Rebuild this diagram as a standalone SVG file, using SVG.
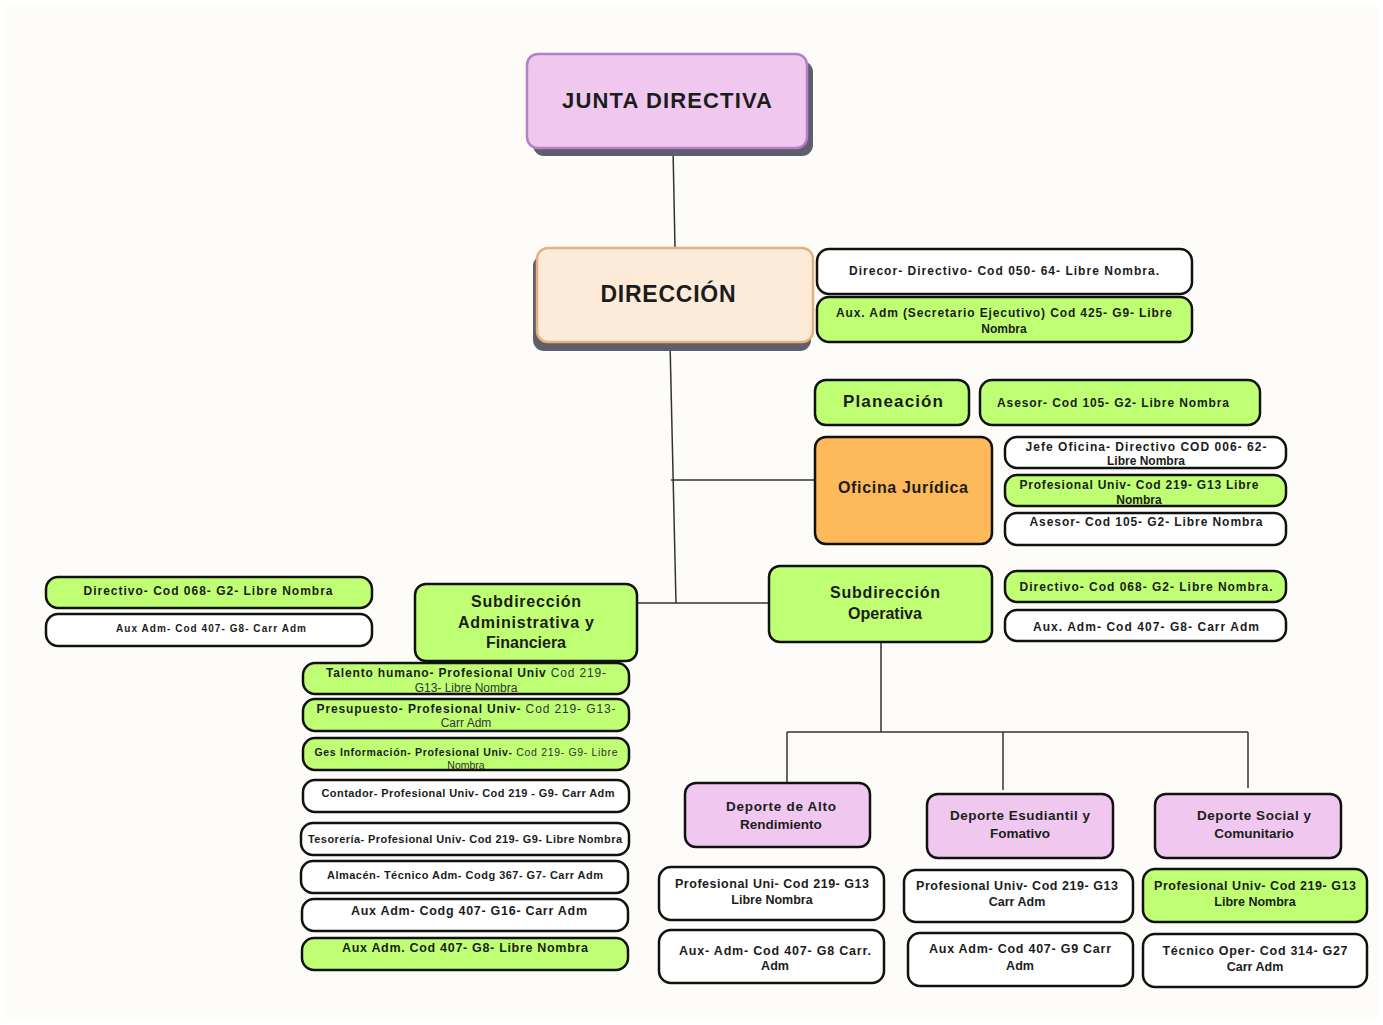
<svg xmlns="http://www.w3.org/2000/svg" width="1383" height="1025" viewBox="0 0 1383 1025">
<style>
.bg{fill:#fdfcf8}
.t{font-family:"Liberation Sans",Arial,sans-serif;font-weight:bold;fill:#1c1c1c;text-anchor:middle}
.r{font-weight:normal;fill:#333}
.w{fill:#ffffff;stroke:#111;stroke-width:2.5}
.g{fill:#bfff73;stroke:#111;stroke-width:2.5}
.o{fill:#fdb95a;stroke:#111;stroke-width:2.5}
.p{fill:#f0c8ef;stroke:#111;stroke-width:2.5}
.sh{fill:#5f5e6e}
.ln{stroke:#333;stroke-width:1.5;fill:none}
</style>
<rect x="0" y="0" width="1383" height="1025" fill="#ffffff"/>
<rect class="bg" x="5" y="4" width="1373" height="1016" rx="4"/>

<g id="connectors">
<path class="ln" d="M673 148 L675 248"/>
<path class="ln" d="M670 342 L676 603"/>
<path class="ln" d="M671 480 L815 480"/>
<path class="ln" d="M638 603 L769 603"/>
<path class="ln" d="M881 642 L881 732"/>
<path class="ln" d="M787 732 L1248 732"/>
<path class="ln" d="M787 732 L787 783"/>
<path class="ln" d="M1003 732 L1003 790"/>
<path class="ln" d="M1248 732 L1248 788"/>
</g>

<g id="junta">
<rect class="sh" x="533" y="61" width="280" height="95" rx="11"/>
<rect x="527" y="54" width="280" height="94" rx="11" fill="#f0c8ef" stroke="#b47fc4" stroke-width="2.5"/>
<text class="t" x="667" y="108" font-size="22" textLength="210">JUNTA DIRECTIVA</text>
</g>

<g id="direccion">
<rect class="sh" x="533" y="255" width="278" height="96" rx="11"/>
<rect x="537" y="248" width="276" height="94" rx="11" fill="#fdebd9" stroke="#e6b07a" stroke-width="2.5"/>
<text class="t" x="668" y="302" font-size="23" textLength="135">DIRECCIÓN</text>
</g>

<g id="direcor">
<rect class="w" x="817" y="249" width="375" height="45" rx="12"/>
<text class="t" x="1004" y="275" font-size="12" textLength="310">Direcor- Directivo- Cod 050- 64- Libre Nombra.</text>
</g>
<g id="aux-secretario">
<rect class="g" x="817" y="297" width="375" height="45" rx="12"/>
<text class="t" x="1004" y="317" font-size="12" textLength="336">Aux. Adm (Secretario Ejecutivo) Cod 425- G9- Libre</text>
<text class="t" x="1004" y="333" font-size="12">Nombra</text>
</g>

<g id="planeacion">
<rect class="g" x="815" y="380" width="154" height="45" rx="11"/>
<text class="t" x="893" y="407" font-size="17" textLength="100">Planeación</text>
</g>
<g id="planeacion-asesor">
<rect class="g" x="980" y="380" width="280" height="45" rx="12"/>
<text class="t" x="1113" y="407" font-size="12" textLength="232">Asesor- Cod 105- G2- Libre Nombra</text>
</g>

<g id="oficina-juridica">
<rect class="o" x="815" y="437" width="177" height="107" rx="11"/>
<text class="t" x="903" y="493" font-size="16" textLength="130">Oficina Jurídica</text>
</g>
<g id="jefe-oficina">
<rect class="w" x="1005" y="437" width="281" height="31" rx="12"/>
<text class="t" x="1146" y="451" font-size="12" textLength="241">Jefe Oficina- Directivo COD 006- 62-</text>
<text class="t" x="1146" y="465" font-size="12">Libre Nombra</text>
</g>
<g id="juridica-profesional">
<rect class="g" x="1005" y="475" width="281" height="31" rx="12"/>
<text class="t" x="1139" y="489" font-size="12" textLength="239">Profesional Univ- Cod 219- G13 Libre</text>
<text class="t" x="1139" y="504" font-size="12">Nombra</text>
</g>
<g id="juridica-asesor">
<rect class="w" x="1005" y="513" width="281" height="32" rx="12"/>
<text class="t" x="1146" y="526" font-size="12" textLength="233">Asesor- Cod 105- G2- Libre Nombra</text>
</g>

<g id="sub-operativa">
<rect class="g" x="769" y="566" width="223" height="76" rx="11"/>
<text class="t" x="885" y="598" font-size="16" textLength="110">Subdirección</text>
<text class="t" x="885" y="619" font-size="16">Operativa</text>
</g>
<g id="op-directivo">
<rect class="g" x="1005" y="571" width="281" height="31" rx="12"/>
<text class="t" x="1146" y="591" font-size="12" textLength="253">Directivo- Cod 068- G2- Libre Nombra.</text>
</g>
<g id="op-aux">
<rect class="w" x="1005" y="610" width="281" height="31" rx="12"/>
<text class="t" x="1146" y="631" font-size="12" textLength="226">Aux. Adm- Cod 407- G8- Carr Adm</text>
</g>

<g id="sub-administrativa">
<rect class="g" x="415" y="584" width="222" height="77" rx="11"/>
<text class="t" x="526" y="607" font-size="16" textLength="110">Subdirección</text>
<text class="t" x="526" y="628" font-size="16" textLength="136">Administrativa y</text>
<text class="t" x="526" y="648" font-size="16">Financiera</text>
</g>
<g id="adm-directivo">
<rect class="g" x="46" y="577" width="326" height="31" rx="12"/>
<text class="t" x="208" y="595" font-size="12" textLength="249">Directivo- Cod 068- G2- Libre Nombra</text>
</g>
<g id="adm-aux">
<rect class="w" x="46" y="614" width="326" height="32" rx="12"/>
<text class="t" x="211" y="632" font-size="10" textLength="190">Aux Adm- Cod 407- G8- Carr Adm</text>
</g>

<g id="talento">
<rect class="g" x="303" y="663" width="326" height="31" rx="12"/>
<text class="t" x="466" y="677" font-size="12" textLength="280">Talento humano- Profesional Univ <tspan class="r">Cod 219-</tspan></text>
<text class="t r" x="466" y="692" font-size="12">G13- Libre Nombra</text>
</g>
<g id="presupuesto">
<rect class="g" x="303" y="699" width="326" height="32" rx="12"/>
<text class="t" x="466" y="713" font-size="12" textLength="299">Presupuesto- Profesional Univ- <tspan class="r">Cod 219- G13-</tspan></text>
<text class="t r" x="466" y="727" font-size="12">Carr Adm</text>
</g>
<g id="ges-informacion">
<rect class="g" x="303" y="738" width="326" height="32" rx="12"/>
<text class="t" x="466" y="756" font-size="10.5" textLength="303">Ges Información- Profesional Univ- <tspan class="r">Cod 219- G9- Libre</tspan></text>
<text class="t r" x="466" y="769" font-size="10.5">Nombra</text>
</g>
<g id="contador">
<rect class="w" x="303" y="780" width="326" height="32" rx="12"/>
<text class="t" x="468" y="797" font-size="11" textLength="293">Contador- Profesional Univ- Cod 219 - G9- Carr Adm</text>
</g>
<g id="tesoreria">
<rect class="w" x="301" y="823" width="328" height="32" rx="12"/>
<text class="t" x="465" y="843" font-size="11" textLength="314">Tesorería- Profesional Univ- Cod 219- G9- Libre Nombra</text>
</g>
<g id="almacen">
<rect class="w" x="301" y="861" width="327" height="32" rx="12"/>
<text class="t" x="465" y="879" font-size="11" textLength="276">Almacén- Técnico Adm- Codg 367- G7- Carr Adm</text>
</g>
<g id="aux-codg">
<rect class="w" x="302" y="899" width="326" height="32" rx="12"/>
<text class="t" x="469" y="915" font-size="12.5" textLength="236">Aux Adm- Codg 407- G16- Carr Adm</text>
</g>
<g id="aux-libre">
<rect class="g" x="302" y="938" width="326" height="32" rx="12"/>
<text class="t" x="465" y="952" font-size="12.5" textLength="246">Aux Adm. Cod 407- G8- Libre Nombra</text>
</g>

<g id="deporte-alto">
<rect class="p" x="685" y="783" width="185" height="64" rx="11"/>
<text class="t" x="781" y="811" font-size="13.5" textLength="110">Deporte de Alto</text>
<text class="t" x="781" y="829" font-size="13.5">Rendimiento</text>
</g>
<g id="deporte-estudiantil">
<rect class="p" x="927" y="794" width="186" height="64" rx="11"/>
<text class="t" x="1020" y="820" font-size="13.5" textLength="140">Deporte Esudiantil y</text>
<text class="t" x="1020" y="838" font-size="13.5">Fomativo</text>
</g>
<g id="deporte-social">
<rect class="p" x="1155" y="794" width="186" height="64" rx="11"/>
<text class="t" x="1254" y="820" font-size="13.5" textLength="114">Deporte Social y</text>
<text class="t" x="1254" y="838" font-size="13.5">Comunitario</text>
</g>

<g id="alto-prof">
<rect class="w" x="659" y="867" width="225" height="53" rx="12"/>
<text class="t" x="772" y="888" font-size="12.5" textLength="194">Profesional Uni- Cod 219- G13</text>
<text class="t" x="772" y="904" font-size="12.5">Libre Nombra</text>
</g>
<g id="estudiantil-prof">
<rect class="w" x="904" y="870" width="229" height="52" rx="12"/>
<text class="t" x="1017" y="890" font-size="12.5" textLength="202">Profesional Univ- Cod 219- G13</text>
<text class="t" x="1017" y="906" font-size="12.5">Carr Adm</text>
</g>
<g id="social-prof">
<rect class="g" x="1143" y="869" width="224" height="53" rx="12"/>
<text class="t" x="1255" y="890" font-size="12.5" textLength="202">Profesional Univ- Cod 219- G13</text>
<text class="t" x="1255" y="906" font-size="12.5">Libre Nombra</text>
</g>
<g id="alto-aux">
<rect class="w" x="659" y="930" width="225" height="53" rx="12"/>
<text class="t" x="775" y="955" font-size="12.5" textLength="192">Aux- Adm- Cod 407- G8 Carr.</text>
<text class="t" x="775" y="970" font-size="12.5">Adm</text>
</g>
<g id="estudiantil-aux">
<rect class="w" x="908" y="933" width="225" height="53" rx="12"/>
<text class="t" x="1020" y="953" font-size="12.5" textLength="182">Aux Adm- Cod 407- G9 Carr</text>
<text class="t" x="1020" y="970" font-size="12.5">Adm</text>
</g>
<g id="social-tecnico">
<rect class="w" x="1143" y="934" width="224" height="53" rx="12"/>
<text class="t" x="1255" y="955" font-size="12.5" textLength="185">Técnico Oper- Cod 314- G27</text>
<text class="t" x="1255" y="971" font-size="12.5">Carr Adm</text>
</g>
</svg>
